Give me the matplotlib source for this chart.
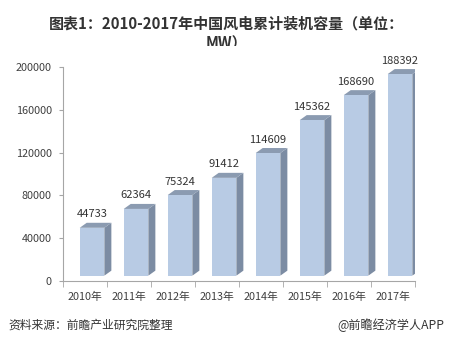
import matplotlib
matplotlib.use("Agg")
import matplotlib.pyplot as plt
from matplotlib.patches import Polygon
import numpy as np

plt.rcParams['font.family'] = ['Noto Sans CJK SC', 'DejaVu Sans']

years = ["2010年", "2011年", "2012年", "2013年", "2014年", "2015年", "2016年", "2017年"]
values = [44733, 62364, 75324, 91412, 114609, 145362, 168690, 188392]
yticks = [0, 40000, 80000, 120000, 160000, 200000]

W, H = 452, 351
fig = plt.figure(figsize=(W / 100, H / 100), dpi=100)

ax_left, ax_right = 63, 415
ax_bottom, ax_top = 281, 46          # pixel rows from top
px_per_unit = 214 / 200000           # pixels per data unit (y)
ymax = (ax_bottom - ax_top) / px_per_unit

ax = fig.add_axes([ax_left / W, (H - ax_bottom) / H,
                   (ax_right - ax_left) / W, (ax_bottom - ax_top) / H])
ax.set_xlim(-0.5, len(years) - 0.5)
ax.set_ylim(0, ymax)

front = "#b8cbe4"
side = "#7c8ca3"
topc = "#8b9bb1"

half = 0.28
shift = 0.16
lift = 5000
dx = 7 / 44
dy = 5 / px_per_unit

x = np.arange(len(years))
for xi, v in zip(x, values):
    xc = xi + shift
    xl, xr = xc - half, xc + half
    t = v + lift
    ax.add_patch(Polygon([(xr, lift), (xr, t), (xr + dx, t + dy), (xr + dx, lift + dy)],
                         closed=True, facecolor=side, edgecolor="none", zorder=2))
    ax.add_patch(Polygon([(xl, t), (xr, t), (xr + dx, t + dy), (xl + dx, t + dy)],
                         closed=True, facecolor=topc, edgecolor="none", zorder=2))
    ax.bar(xc, v, width=2 * half, bottom=lift, color=front, edgecolor="none", zorder=3)
    ax.annotate(str(v), xy=(xc, t + dy), xytext=(0, 2.5), textcoords="offset points",
                ha="center", va="bottom", fontsize=8, color="#333333", zorder=4)

for s in ["top", "right"]:
    ax.spines[s].set_visible(False)
ax.spines["left"].set_bounds(0, 200000)
ax.spines["left"].set_color("#a6a6a6")
ax.spines["bottom"].set_color("#a6a6a6")

ax.set_yticks(yticks)
ax.set_yticklabels([str(v) for v in yticks])
ax.set_xticks(x)
ax.set_xticklabels(years)
ax.set_xticks(np.arange(-0.5, len(years) + 0.5, 1), minor=True)
ax.tick_params(axis="x", which="major", length=0, pad=8, labelsize=7.8, colors="#404040")
ax.tick_params(axis="x", which="minor", length=4, color="#a6a6a6", direction="out")
ax.tick_params(axis="y", length=3, pad=5, labelsize=7.8, color="#a6a6a6", labelcolor="#404040")

fig.text(0.5, 1 - 24 / H, "图表1：2010-2017年中国风电累计装机容量（单位：",
         ha="center", va="center", fontsize=10.8, fontweight="bold", color="#333333")
fig.text(0.5, 1 - 43 / H, "MW）", ha="center", va="center", fontsize=10.8,
         fontweight="bold", color="#333333", zorder=-1)

fig.text(8 / W, 1 - 325 / H, "资料来源：前瞻产业研究院整理", ha="left", va="center",
         fontsize=8.5, color="#333333")
fig.text(444 / W, 1 - 325 / H, "@前瞻经济学人APP", ha="right", va="center",
         fontsize=8.7, color="#333333")

fig.savefig("out.png", dpi=100)
